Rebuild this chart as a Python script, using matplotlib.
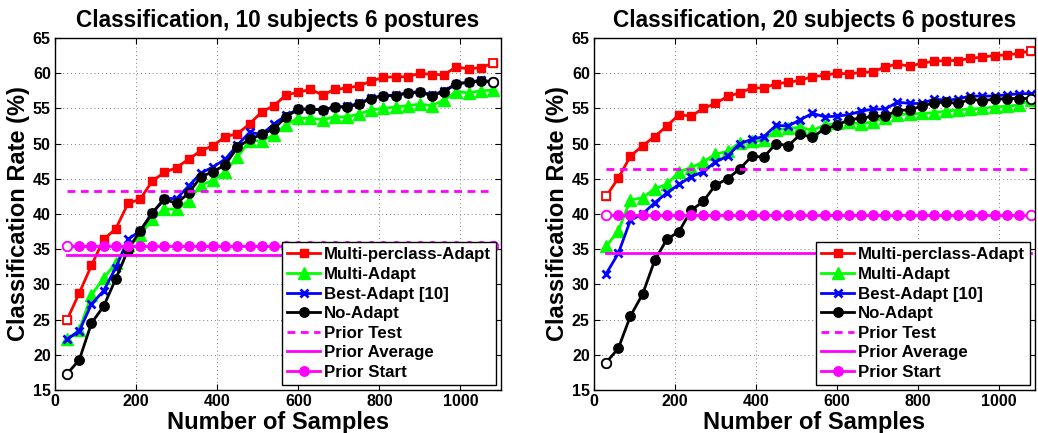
#!/usr/bin/env python3
"""Classification rate vs. number of adaptation samples (10 and 20 subjects, 6 postures)."""

import matplotlib

matplotlib.use("Agg")
import matplotlib.pyplot as plt
import numpy as np

OUT = "out.png"

# x axis: number of samples used for adaptation
SAMPLES = [30, 60, 90, 120, 150, 180, 210, 240, 270, 300, 330, 360,
           390, 420, 450, 480, 510, 540, 570, 600, 630, 660, 690, 720,
           750, 780, 810, 840, 870, 900, 930, 960, 990, 1020, 1050, 1080]

# --- 10 subjects, 6 postures ---
MPC_10 = [25.0, 28.8, 32.7, 36.4, 37.9, 41.5, 42.1, 44.7, 45.9, 46.6, 47.8, 49.0,
          49.7, 51.0, 51.4, 52.8, 54.5, 55.4, 56.9, 57.3, 57.7, 56.9, 57.7, 57.9,
          58.2, 58.9, 59.4, 59.5, 59.5, 60.0, 59.8, 59.8, 60.9, 60.6, 60.8, 61.4]
MULTI_10 = [22.2, 23.5, 28.5, 30.9, 33.0, 35.6, 37.0, 39.3, 40.7, 40.7, 41.9, 44.1,
            44.8, 46.0, 48.1, 50.4, 50.4, 51.2, 52.7, 53.6, 53.6, 53.4, 53.8, 53.8,
            54.2, 54.8, 55.0, 55.2, 55.4, 55.6, 55.4, 56.2, 57.4, 57.2, 57.5, 57.6]
BEST_10 = [22.2, 23.4, 27.2, 29.1, 32.4, 36.4, 37.6, 40.1, 42.2, 42.2, 44.0, 45.8,
           46.7, 47.8, 49.8, 51.6, 51.3, 52.8, 54.0, 54.9, 54.9, 54.8, 55.2, 55.3,
           55.7, 56.5, 56.8, 56.9, 57.2, 57.4, 56.9, 57.5, 58.5, 58.7, 59.0, 58.8]
NOADAPT_10 = [17.3, 19.3, 24.5, 26.9, 30.8, 34.9, 37.6, 40.2, 42.1, 41.5, 43.0, 45.3,
              46.0, 47.0, 49.5, 50.6, 51.3, 52.1, 53.8, 54.9, 54.9, 54.8, 55.2, 55.2,
              55.6, 56.4, 56.8, 56.8, 57.2, 57.3, 56.8, 57.4, 58.5, 58.7, 58.9, 58.7]
PRIOR_TEST_10 = 43.3
PRIOR_AVG_10 = 34.2
PRIOR_START_10 = 35.5

# --- 20 subjects, 6 postures ---
MPC_20 = [42.5, 45.1, 48.2, 49.7, 51.0, 52.5, 54.1, 53.9, 55.0, 55.7, 56.7, 57.2,
          57.9, 57.9, 58.5, 58.7, 59.0, 59.5, 59.7, 60.0, 59.9, 60.1, 60.2, 60.9,
          61.3, 61.0, 61.4, 61.7, 61.8, 61.8, 62.1, 62.3, 62.5, 62.6, 62.8, 63.2]
MULTI_20 = [35.4, 37.6, 42.0, 42.3, 43.6, 44.2, 46.0, 46.6, 47.4, 48.5, 48.9, 50.1,
            50.3, 50.5, 51.9, 52.2, 52.3, 51.9, 52.6, 52.9, 53.0, 52.8, 53.1, 53.7,
            54.1, 54.2, 54.3, 54.4, 54.6, 54.8, 54.9, 55.0, 55.2, 55.3, 55.5, 56.2]
BEST_20 = [31.5, 34.4, 39.1, 40.0, 41.6, 43.0, 44.2, 45.3, 46.0, 47.4, 48.2, 50.0,
           50.6, 51.0, 52.6, 52.5, 53.4, 54.3, 53.8, 53.9, 54.1, 54.6, 54.9, 54.9,
           55.9, 55.7, 55.7, 56.3, 56.2, 56.3, 56.8, 56.7, 56.8, 56.9, 57.1, 57.1]
NOADAPT_20 = [18.9, 20.9, 25.5, 28.6, 33.4, 36.4, 37.5, 40.5, 41.8, 44.1, 45.0, 46.4,
              48.2, 48.1, 50.0, 49.7, 51.3, 50.9, 52.1, 52.6, 53.4, 53.6, 53.9, 53.9,
              54.7, 54.8, 55.3, 55.8, 55.9, 55.7, 56.3, 56.1, 56.3, 56.4, 56.4, 56.4]
PRIOR_TEST_20 = 46.4
PRIOR_AVG_20 = 34.4
PRIOR_START_20 = 39.8

TITLES = ["Classification, 10 subjects 6 postures",
          "Classification, 20 subjects 6 postures"]
LABELS = ["Multi-perclass-Adapt", "Multi-Adapt", "Best-Adapt [10]", "No-Adapt",
          "Prior Test", "Prior Average", "Prior Start"]
XTICKS = [0, 200, 400, 600, 800, 1000]
YTICKS = [15, 20, 25, 30, 35, 40, 45, 50, 55, 60, 65]

MAGENTA = "#ff00ff"


def draw_panel(ax, curves, priors, title, xmax, show_ylabel=True):
    x = np.asarray(SAMPLES, dtype=float)
    mpc, multi, best, noad = curves
    p_test, p_avg, p_start = priors
    lw = 2.0

    ax.plot(x, mpc, "-s", color="#ff0000", lw=lw, ms=6.2, label=LABELS[0])
    ax.plot(x, multi, "-^", color="#00ff00", lw=lw, ms=8.5, label=LABELS[1])
    ax.plot(x, best, "-x", color="#0000ff", lw=lw, ms=6.2, mew=2, label=LABELS[2])
    ax.plot(x, noad, "-o", color="black", lw=lw, ms=6.8, label=LABELS[3])
    ax.plot(x, np.full_like(x, p_test), color=MAGENTA, lw=lw, dashes=(2.8, 2.0), label=LABELS[4])
    ax.plot(x, np.full_like(x, p_avg), "-", color=MAGENTA, lw=lw, label=LABELS[5])
    ax.plot(x, np.full_like(x, p_start), "-o", color=MAGENTA, lw=lw, ms=6.8, label=LABELS[6])

    # end markers come out hollow in the original export
    ends = [0, -1]
    ax.plot(x[ends], np.asarray(mpc)[ends], "s", ls="none", color="#ff0000", mfc="white", ms=6.2, mew=1.3)
    ax.plot(x[ends], np.asarray(noad)[ends], "o", ls="none", color="black", mfc="white", ms=6.8, mew=1.3)
    ax.plot(x[ends], [p_start, p_start], "o", ls="none", color=MAGENTA, mfc="white", ms=6.8, mew=1.3)

    ax.set_xlim(0, xmax)
    ax.set_ylim(15, 65)
    ax.set_xticks(XTICKS)
    ax.set_yticks(YTICKS)
    ax.tick_params(direction="in", top=True, right=True, length=4, width=0.8,
                   labelsize=11.5, pad=3)
    for lab in ax.get_xticklabels() + ax.get_yticklabels():
        lab.set_fontweight("bold")
    ax.grid(True, color="#7f7f7f", ls=(0, (1, 3)), lw=0.7)
    for sp in ax.spines.values():
        sp.set_linewidth(1.0)

    ax.set_title(title, fontsize=16.3, fontweight="bold", pad=8)
    ax.set_xlabel("Number of Samples", fontsize=17, fontweight="bold", labelpad=1)
    if show_ylabel:
        ax.set_ylabel("Classification Rate (%)", fontsize=17, fontweight="bold", labelpad=2)

    leg = ax.legend(loc="lower right", prop={"weight": "bold", "size": 12.2},
                    fancybox=False, framealpha=1.0, edgecolor="black",
                    handlelength=1.9, handletextpad=0.25, labelspacing=0.27,
                    borderpad=0.3, borderaxespad=0.3)
    leg.get_frame().set_linewidth(1.0)
    return leg


def main() -> int:
    plt.rcParams["font.family"] = ["Liberation Sans", "DejaVu Sans"]
    fig = plt.figure(figsize=(10.38, 4.33), dpi=100)
    ax1 = fig.add_axes([55 / 1038, 1 - 390 / 433, 446 / 1038, 352 / 433])
    ax2 = fig.add_axes([594 / 1038, 1 - 390 / 433, 441 / 1038, 352 / 433])

    draw_panel(ax1, (MPC_10, MULTI_10, BEST_10, NOADAPT_10),
               (PRIOR_TEST_10, PRIOR_AVG_10, PRIOR_START_10), TITLES[0], 1100)
    draw_panel(ax2, (MPC_20, MULTI_20, BEST_20, NOADAPT_20),
               (PRIOR_TEST_20, PRIOR_AVG_20, PRIOR_START_20), TITLES[1], 1090)

    fig.savefig(OUT, dpi=100)
    plt.close(fig)
    return 0


if __name__ == "__main__":
    raise SystemExit(main())
